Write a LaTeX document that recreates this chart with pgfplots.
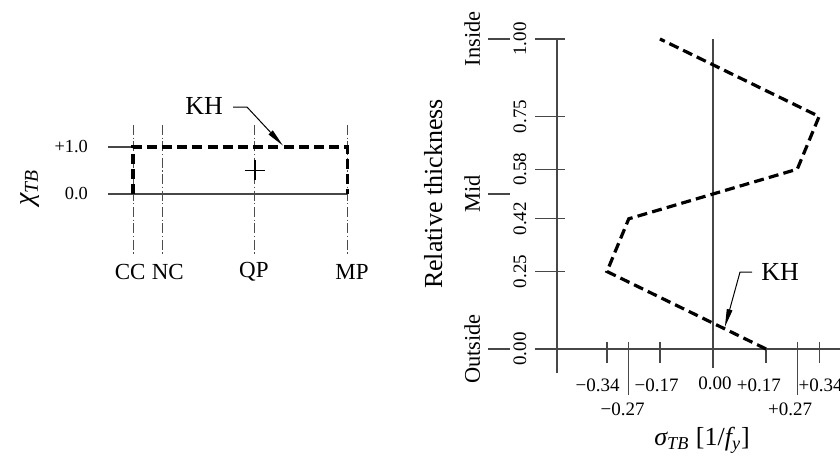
\documentclass[border=0pt]{standalone}
\usepackage{pgfplots}
\pgfplotsset{compat=1.18}
\usepackage{fontspec}
\setmainfont{Liberation Serif}
\usetikzlibrary{arrows.meta}

\tikzset{
  axln/.style={line width=0.6pt, black!72},
  kh/.style={line width=1.6pt, black, dash pattern=on 5pt off 2.6pt},
  cl/.style={line width=0.45pt, black!70, dash pattern=on 5pt off 1.3pt on 0.6pt off 1.3pt},
  lead/.style={line width=0.5pt, black, -{Triangle[length=9pt,width=2.8pt]}},
  tk/.style={font=\fontsize{9.5}{11}\selectfont},
  cat/.style={font=\fontsize{11.5}{13}\selectfont},
}

\begin{document}
\begin{tikzpicture}
\path[use as bounding box] (0,0) rectangle (420pt,230pt);

% ---------------- left panel: chi_TB by detailing category ----------------
\begin{axis}[at={(52pt,86pt)}, anchor=south west,
  x=14.5pt, y=23.5pt, xmin=-1, xmax=8.5, ymin=-2, ymax=2,
  hide axis, clip=false]
  % reference levels
  \draw[axln] (axis cs:-0.86,0) -- (axis cs:7.4,0);
  \draw[axln] (axis cs:-0.86,1) -- (axis cs:0,1);
  % category centre lines: CC, NC, QP, MP
  \addplot[cl] coordinates {(0,1.47) (0,-1.3)};
  \addplot[cl] coordinates {(1,1.47) (1,-1.3)};
  \addplot[cl] coordinates {(4.2,1.47) (4.2,-1.3)};
  \addplot[cl] coordinates {(7.4,1.47) (7.4,-1.3)};
  % KH distribution
  \addplot[kh] coordinates {(0,0) (0,1) (7.4,1) (7.4,0)};
  \addplot[only marks, mark=+, mark size=5pt, mark options={line width=0.7pt}]
    coordinates {(4.2,0.5)};
  % level labels
  \node[anchor=east, font=\fontsize{9.2}{11}\selectfont] at (axis cs:-1.31,1) {+1.0};
  \node[anchor=east, font=\fontsize{9.2}{11}\selectfont] at (axis cs:-1.31,0) {0.0};
  % category labels
  \node[cat] at (axis cs:-0.1,-1.66) {CC};
  \node[cat] at (axis cs:1.2,-1.66) {NC};
  \node[cat] at (axis cs:4.17,-1.66) {QP};
  \node[cat] at (axis cs:7.55,-1.66) {MP};
  % axis title
  \node[rotate=90, font=\fontsize{14}{16}\selectfont] at (axis cs:-3.55,0.13)
    {\itshape χ\textsubscript{\itshape TB}};
  % KH callout
  \node[font=\fontsize{13}{15}\selectfont] at (axis cs:2.45,1.87) {KH};
  \draw[lead] (axis cs:3.45,1.85) -- (axis cs:3.93,1.85) -- (axis cs:5.17,1.03);
\end{axis}

% ---------------- right panel: sigma_TB through the thickness ----------------
\begin{axis}[at={(216.1pt,1.25pt)}, anchor=south west,
  x=156pt, y=155pt, xmin=-0.9, xmax=0.41, ymin=-0.35, ymax=1.05,
  hide axis, clip=false]
  % axes and zero line
  \draw[axln] (axis cs:-0.5,-0.078) -- (axis cs:-0.5,1);
  \draw[axln] (axis cs:-0.5,0) -- (axis cs:0.45,0);
  \draw[axln] (axis cs:0,-0.062) -- (axis cs:0,1);
  % thickness ticks
  \draw[axln] (axis cs:-0.571,0)    -- (axis cs:-0.474,0);
  \draw[axln] (axis cs:-0.571,0.25) -- (axis cs:-0.474,0.25);
  \draw[axln] (axis cs:-0.571,0.42) -- (axis cs:-0.474,0.42);
  \draw[axln] (axis cs:-0.571,0.58) -- (axis cs:-0.474,0.58);
  \draw[axln] (axis cs:-0.571,0.75) -- (axis cs:-0.474,0.75);
  \draw[axln] (axis cs:-0.571,1)    -- (axis cs:-0.474,1);
  \node[tk, rotate=90] at (axis cs:-0.619,0)    {0.00};
  \node[tk, rotate=90] at (axis cs:-0.619,0.25) {0.25};
  \node[tk, rotate=90] at (axis cs:-0.619,0.42) {0.42};
  \node[tk, rotate=90] at (axis cs:-0.619,0.58) {0.58};
  \node[tk, rotate=90] at (axis cs:-0.619,0.75) {0.75};
  \node[tk, rotate=90] at (axis cs:-0.619,1)    {1.00};
  % face markers
  \draw[axln] (axis cs:-0.721,0)   -- (axis cs:-0.651,0);
  \draw[axln] (axis cs:-0.721,0.5) -- (axis cs:-0.651,0.5);
  \draw[axln] (axis cs:-0.721,1)   -- (axis cs:-0.651,1);
  \node[rotate=90, font=\fontsize{11.2}{13}\selectfont] at (axis cs:-0.772,1)   {Inside};
  \node[rotate=90, font=\fontsize{11.2}{13}\selectfont] at (axis cs:-0.772,0.5) {Mid};
  \node[rotate=90, font=\fontsize{11.2}{13}\selectfont] at (axis cs:-0.772,0)   {Outside};
  \node[rotate=90, font=\fontsize{13}{15}\selectfont] at (axis cs:-0.897,0.5) {Relative thickness};
  % stress ticks
  \draw[axln] (axis cs:-0.34,0.023) -- (axis cs:-0.34,-0.045);
  \draw[axln] (axis cs:-0.27,0.023) -- (axis cs:-0.27,-0.148);
  \draw[axln] (axis cs:-0.17,0.023) -- (axis cs:-0.17,-0.045);
  \draw[axln] (axis cs:0.17,0)      -- (axis cs:0.17,-0.045);
  \draw[axln] (axis cs:0.27,0.023)  -- (axis cs:0.27,-0.148);
  \draw[axln] (axis cs:0.34,0.023)  -- (axis cs:0.34,-0.045);
  \node[tk] at (axis cs:-0.37,-0.116)  {−0.34};
  \node[tk] at (axis cs:-0.181,-0.116) {−0.17};
  \node[tk] at (axis cs:0.006,-0.112)  {0.00};
  \node[tk] at (axis cs:0.147,-0.116)  {+0.17};
  \node[tk] at (axis cs:0.345,-0.116)  {+0.34};
  \node[tk] at (axis cs:-0.29,-0.194)  {−0.27};
  \node[tk] at (axis cs:0.247,-0.194)  {+0.27};
  % KH residual stress profile
  \addplot[kh] coordinates {(0.17,0) (-0.34,0.25) (-0.27,0.42) (0.27,0.58) (0.34,0.75) (-0.17,1.0)};
  % KH callout
  \node[font=\fontsize{13}{15}\selectfont] at (axis cs:0.215,0.248) {KH};
  \draw[lead] (axis cs:0.125,0.248) -- (axis cs:0.0865,0.248) -- (axis cs:0.038,0.071);
  % axis title
  \node[font=\fontsize{13}{15}\selectfont] at (axis cs:-0.035,-0.294)
    {{\itshape σ\textsubscript{TB}} [1/{\itshape f}\textsubscript{\itshape y}]};
\end{axis}
\end{tikzpicture}
\end{document}
